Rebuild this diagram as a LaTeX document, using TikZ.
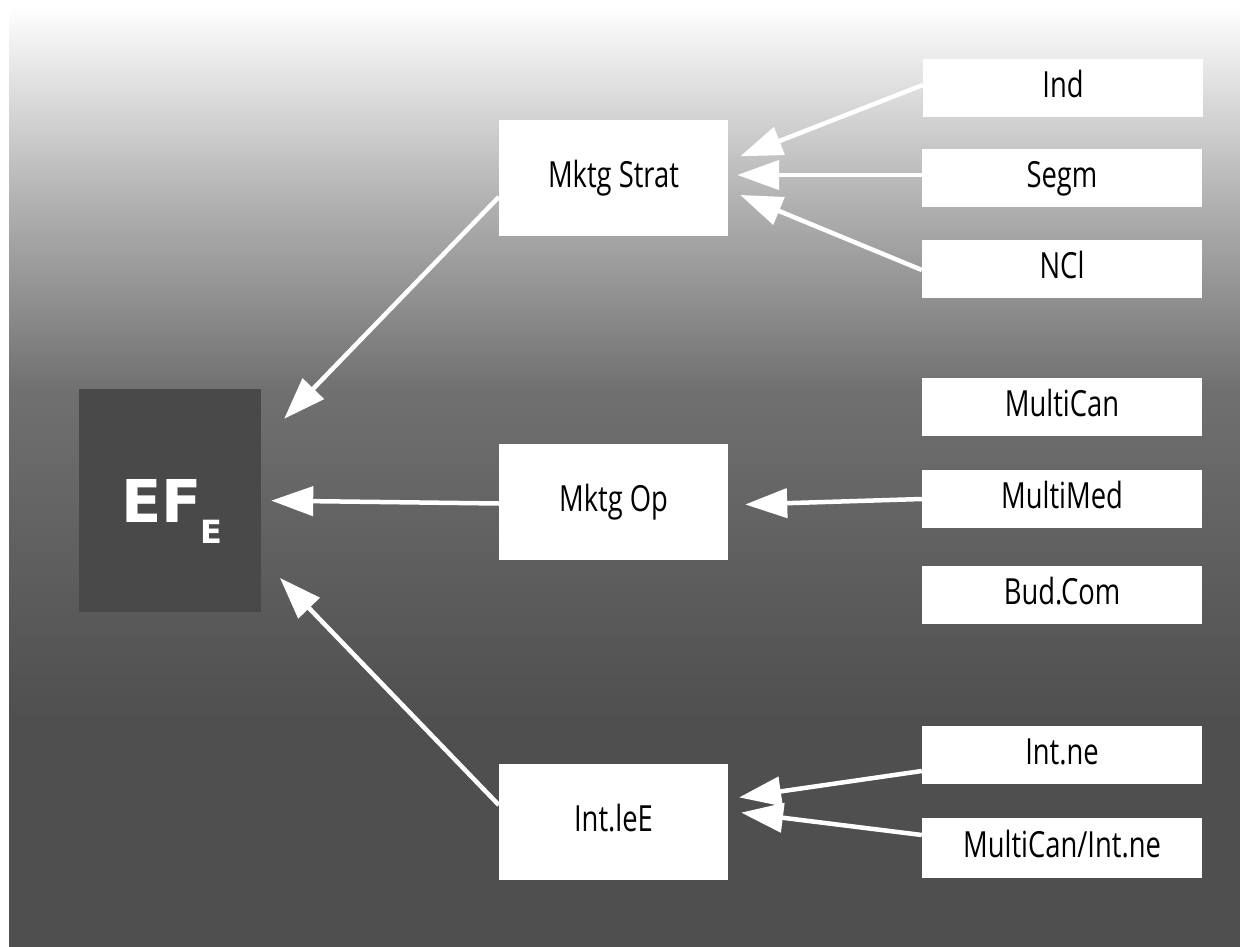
\documentclass[tikz,border=0pt]{standalone}
\usepackage{fontspec}
\usetikzlibrary{arrows.meta}
\newfontfamily\lblfont{Open Sans}[FakeStretch=0.76]
\newfontfamily\effont{DejaVu Sans}
\definecolor{bgdark}{RGB}{79,79,79}
\definecolor{bgmid}{RGB}{112,112,112}
\definecolor{bglight}{RGB}{178,178,178}
\definecolor{efgray}{RGB}{73,73,73}
% backdrop: white at the top, fading to dark grey lower down
\pgfdeclareverticalshading{backdrop}{100bp}{color(0bp)=(bgdark); color(37.06bp)=(bgdark); color(54.6bp)=(bgmid); color(64.7bp)=(bglight); color(75bp)=(white); color(100bp)=(white)}
\tikzset{
  whitebox/.style={fill=white, draw=none, inner sep=0pt, text=black,
    font=\lblfont\fontsize{36}{40}\selectfont, text height=26pt, text depth=7pt},
  midbox/.style={whitebox, minimum width=229pt, minimum height=116pt},
  leafbox/.style={whitebox, minimum width=280pt, minimum height=58pt},
  arr/.style={draw=white, line width=4.5pt, -{Triangle[length=42pt,width=29pt]}},
}
\begin{document}
\begin{tikzpicture}[x=1pt,y=-1pt]
\useasboundingbox (0,0) rectangle (1240,947);
\fill[white] (0,0) rectangle (1240,947);
\shade[shading=backdrop] (9,6) rectangle (1240,947);

% target box
\node[fill=efgray, minimum width=182pt, minimum height=223pt, inner sep=0pt] (ef) at (170,500.5) {};
\node[anchor=base west, inner sep=0pt, text=white] (eflabel) at (121,522)
  {\effont\bfseries\fontsize{59}{59}\selectfont EF\hspace{-1pt}\raisebox{-21pt}{\fontsize{32}{32}\selectfont E}};

% middle column
\node[midbox] (mstrat) at (613.5,178) {Mktg Strat};
\node[midbox] (mop) at (613.5,502) {Mktg Op};
\node[midbox] (intlee) at (613.5,822) {Int.leE};

% right column
\node[leafbox] (ind) at (1063,88) {Ind};
\node[leafbox] (segm) at (1062,178) {Segm};
\node[leafbox] (ncl) at (1062,269) {NCl};
\node[leafbox] (mcan) at (1062,407) {MultiCan};
\node[leafbox] (mmed) at (1062,499) {MultiMed};
\node[leafbox] (bud) at (1062,595) {Bud.Com};
\node[leafbox] (intne) at (1062,755) {Int.ne};
\node[leafbox, minimum height=60pt] (mcin) at (1062,848) {MultiCan/Int.ne};

% connectors into the middle column
\draw[arr, shorten >=13pt] ([yshift=3pt]ind.west) -- ([yshift=17pt]mstrat.east);
\draw[arr, shorten >=9pt] ([yshift=3pt]segm.west) -- ([yshift=3pt]mstrat.east);
\draw[arr, shorten >=13pt] ([yshift=-1pt]ncl.west) -- ([yshift=-12pt]mstrat.east);
\draw[arr, shorten >=17pt] (mmed.west) -- ([yshift=-3pt]mop.east);
\draw[arr, shorten >=11pt] ([yshift=-16pt]intne.west) -- ([yshift=23pt]intlee.east);
\draw[arr, shorten >=13pt] ([yshift=13pt]mcin.west) -- ([yshift=11pt]intlee.east);

% connectors into the target box
\draw[arr, shorten >=33pt] ([yshift=-19pt]mstrat.west) -- ([yshift=58pt]ef.east);
\draw[arr, shorten >=10pt] ([yshift=-1.5pt]mop.west) -- (ef.east);
\draw[arr, shorten >=27pt] ([yshift=17pt]intlee.west) -- ([yshift=-58pt]ef.east);
\end{tikzpicture}
\end{document}
